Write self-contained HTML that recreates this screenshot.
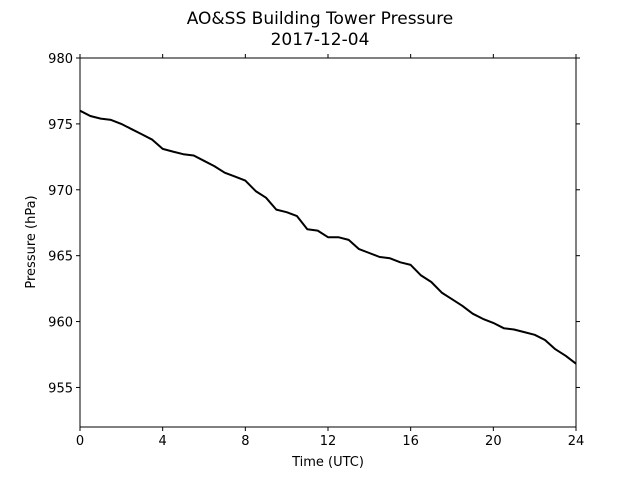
<!DOCTYPE html>
<html><head><meta charset="utf-8"><style>
body{margin:0;background:#fff;}
svg text{font-family:"DejaVu Sans","Liberation Sans",sans-serif;fill:#000;}
</style></head><body>
<svg width="640" height="480">
<text x="320" y="24" font-size="17" text-anchor="middle">AO&amp;SS Building Tower Pressure</text>
<text x="320" y="45" font-size="17" text-anchor="middle">2017-12-04</text>
<g id="ax"></g>
<rect x="80" y="58" width="496" height="369" fill="none" stroke="#000" stroke-width="1"/>
<text x="328" y="466" font-size="13" text-anchor="middle">Time (UTC)</text>
<text transform="translate(35,242) rotate(-90)" font-size="13" text-anchor="middle">Pressure (hPa)</text>
</svg>
<script>
const hours=[0,0.5,1,1.5,2,2.5,3,3.5,4,4.5,5,5.5,6,6.5,7,7.5,8,8.5,9,9.5,10,10.5,11,11.5,12,12.5,13,13.5,14,14.5,15,15.5,16,16.5,17,17.5,18,18.5,19,19.5,20,20.5,21,21.5,22,22.5,23,23.5,24];
const pressure=[976.0,975.6,975.4,975.3,975.0,974.6,974.2,973.8,973.1,972.9,972.7,972.6,972.2,971.8,971.3,971.0,970.7,969.9,969.4,968.5,968.3,968.0,967.0,966.9,966.4,966.4,966.2,965.5,965.2,964.9,964.8,964.5,964.3,963.5,963.0,962.2,961.7,961.2,960.6,960.2,959.9,959.5,959.4,959.2,959.0,958.6,957.9,957.4,956.8];
const xTicks=[0,4,8,12,16,20,24];
const yTicks=[955,960,965,970,975,980];
const X0=80,X1=576,Y0=427,Y1=58,XMIN=0,XMAX=24,YMIN=952,YMAX=980;
const xs=v=>X0+(v-XMIN)/(XMAX-XMIN)*(X1-X0);
const ys=v=>Y0-(v-YMIN)/(YMAX-YMIN)*(Y0-Y1);
const NS="http://www.w3.org/2000/svg";
const g=document.getElementById('ax');
function mk(t,a){const e=document.createElementNS(NS,t);for(const k in a)e.setAttribute(k,a[k]);g.appendChild(e);return e;}
xTicks.forEach(t=>{const x=xs(t);
 const a=mk('line',{x1:x,x2:x,y1:Y0,y2:Y0+4,stroke:'#000'});
 
 
 const b=mk('line',{x1:x,x2:x,y1:Y1,y2:Y1-4,stroke:'#000'});
 
 
 const l=mk('text',{x:x,y:Y0+18,'font-size':13,'text-anchor':'middle'});l.textContent=t;
 
 
});
yTicks.forEach(t=>{const y=ys(t);
 const a=mk('line',{x1:X0-4,x2:X0,y1:y,y2:y,stroke:'#000'});
 
 
 const b=mk('line',{x1:X1,x2:X1+4,y1:y,y2:y,stroke:'#000'});
 
 
 const l=mk('text',{x:X0-7,y:y+5,'font-size':13,'text-anchor':'end'});l.textContent=t;
 
 
});
const d=hours.map((h,i)=>(i?'L':'M')+xs(h).toFixed(1)+','+ys(pressure[i]).toFixed(1)).join('');
const p=mk('path',{d:d,fill:'none',stroke:'#000','stroke-width':2,'stroke-linejoin':'round'});


</script>
</body></html>
